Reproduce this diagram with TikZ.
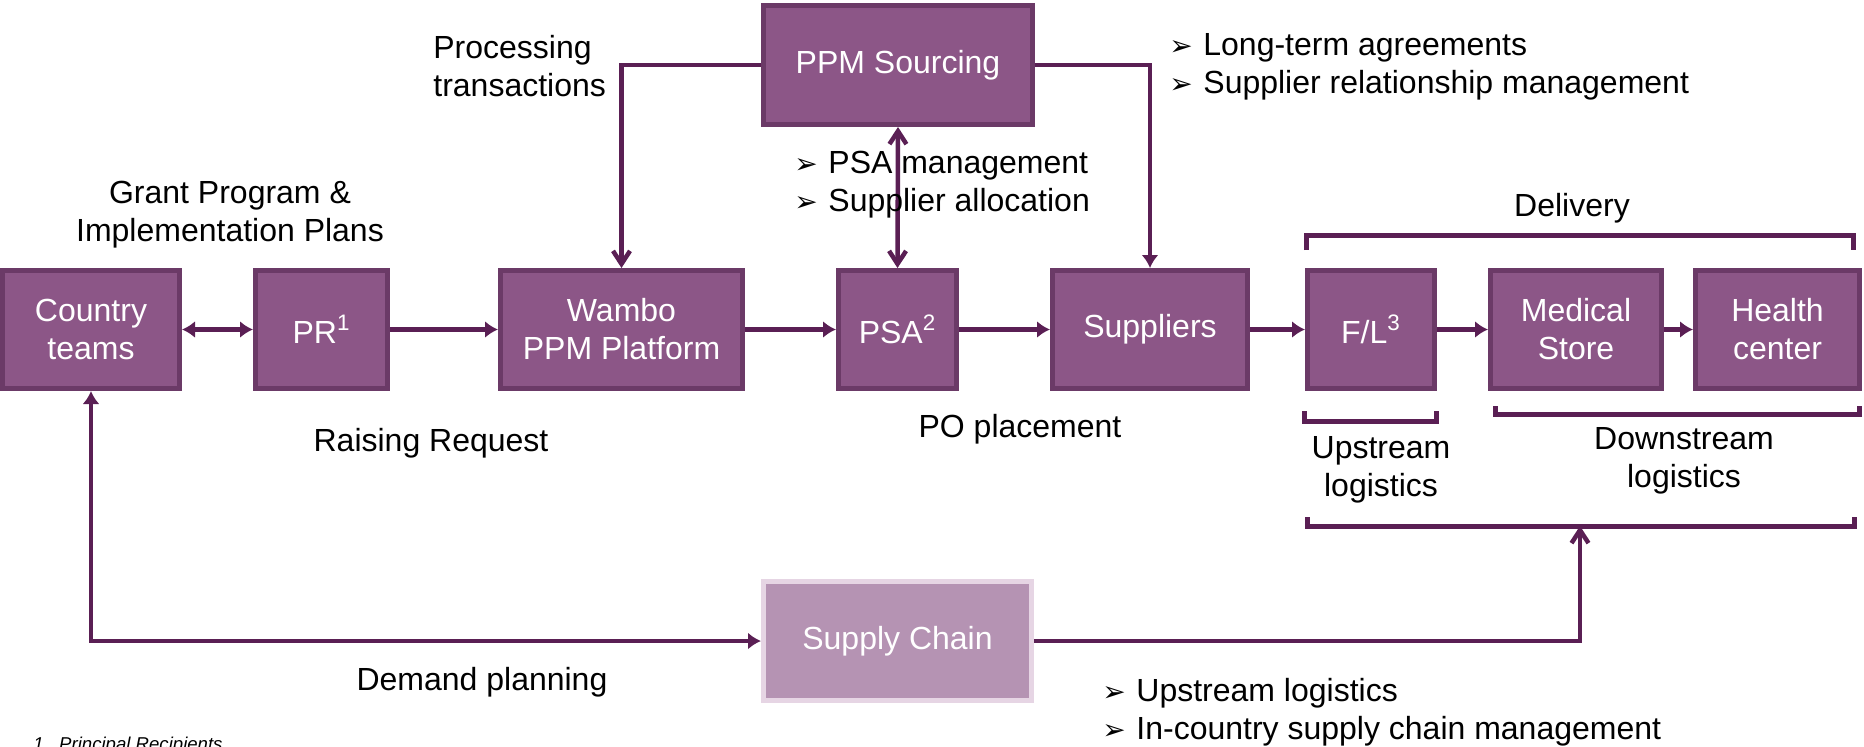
\documentclass[tikz,border=0pt]{standalone}
\usepackage{fontspec}
\setmainfont{Liberation Sans}
\newfontfamily\dejavu{DejaVu Sans}
\usetikzlibrary{arrows.meta}

\definecolor{boxfill}{RGB}{140,86,135}
\definecolor{boxdraw}{RGB}{107,58,103}
\definecolor{linkcol}{RGB}{90,31,84}
\definecolor{scfill}{RGB}{181,147,179}
\definecolor{scdraw}{RGB}{230,213,228}

\newcommand{\mainfont}{\fontsize{16pt}{19pt}\selectfont}
\newcommand{\bul}{\makebox[17pt][l]{\dejavu\fontsize{14pt}{14pt}\selectfont ➢}}

\tikzset{
  box/.style={draw=boxdraw, fill=boxfill, line width=2.5pt, text=white,
    inner sep=0pt, align=center, font=\mainfont, minimum height=59pt},
  scbox/.style={box, draw=scdraw, fill=scfill},
  lbl/.style={font=\mainfont, inner sep=0pt, text=black},
  link/.style={draw=linkcol, line width=2.25pt},
  tri/.style={link, -{Latex[length=6.5pt,width=8.5pt]}},
  tritri/.style={link, {Latex[length=6.5pt,width=8.5pt]}-{Latex[length=6.5pt,width=8.5pt]}},
  chev/.style={link, -{Straight Barb[length=6.5pt,width=8.5pt]}},
  chevchev/.style={link, {Straight Barb[length=6.5pt,width=8.5pt]}-{Straight Barb[length=6.5pt,width=8.5pt]}},
  brace/.style={draw=linkcol, line width=2.5pt},
}

\begin{document}
\begin{tikzpicture}[x=0.5pt, y=-0.5pt]
\useasboundingbox (0,0) rectangle (1864,746);

% main process row
\node[box, minimum width=88.5pt] (ct)  at (91,329.5)   {Country\\teams};
\node[box, minimum width=66pt]   (pr)  at (321.5,329.5) {PR\textsuperscript{1}};
\node[box, minimum width=121pt]  (wb)  at (621.5,329.5) {Wambo\\PPM Platform};
\node[box, minimum width=59pt]   (psa) at (897.5,329.5) {PSA\textsuperscript{2}};
\node[box, minimum width=97.5pt] (sup) at (1150,329.5)  {Suppliers};
\node[box, minimum width=63.5pt] (fl)  at (1371,329.5)  {F/L\textsuperscript{3}};
\node[box, minimum width=85.5pt] (ms)  at (1576,329.5)  {Medical\\Store};
\node[box, minimum width=82pt]   (hc)  at (1777.5,329.5) {Health\\center};

% sourcing and supply chain functions
\node[box, minimum width=134.5pt, minimum height=59.5pt] (ppm) at (898,65) {PPM Sourcing};
\node[scbox, minimum width=134pt, minimum height=59.5pt] (sc) at (897.5,641) {Supply Chain};

% flow along the row
\draw[tritri] (ct) -- (pr);
\draw[tri] (pr) -- (wb);
\draw[tri] (wb) -- (psa);
\draw[tri] (psa) -- (sup);
\draw[tri] (sup) -- (fl);
\draw[tri] (fl) -- (ms);
\draw[tri] (ms) -- (hc);

% sourcing links
\draw[chev] (ppm.west) -| (wb.north);
\draw[tri] (ppm.east) -| (sup.north);
\draw[chevchev] (ppm.south) -- (psa.north);

% logistics brackets
\coordinate (dl1) at (1306,250); \coordinate (dl2) at (1853,250);
\draw[brace] (dl1) -- (1306,235) -- (1853,235) -- (dl2);
\coordinate (ul1) at (1304,411); \coordinate (ul2) at (1436,411);
\draw[brace] (ul1) -- (1304,421) -- (1436,421) -- (ul2);
\coordinate (wl1) at (1495,406); \coordinate (wl2) at (1859,406);
\draw[brace] (wl1) -- (1495,414) -- (1859,414) -- (wl2);
\coordinate (bl1) at (1307,517); \coordinate (bl2) at (1854,517);
\draw[brace] (bl1) -- (1307,526) -- (1854,526) -- (bl2);
\coordinate (bmid) at (1580,526);

% supply chain links
\draw[tritri] (ct.south) |- (sc.west);
\draw[chev] (sc.east) -| (bmid);

% labels
\node[lbl, align=center] (lgp) at (230,215) {Grant Program \&\\Implementation Plans};
\node[lbl, align=left, anchor=west] (lproc) at (433,66) {Processing\\transactions};
\node[lbl, align=left, anchor=west] (lpsa) at (794,185) {\bul PSA management\\\bul Supplier allocation};
\node[lbl, align=left, anchor=west] (lsrc) at (1169,67) {\bul Long-term agreements\\\bul Supplier relationship management};
\node[lbl] (ldel) at (1572,208) {Delivery};
\node[lbl] (lrr) at (431,443) {Raising Request};
\node[lbl] (lpo) at (1020,429) {PO placement};
\node[lbl, align=center] (lup) at (1381,470) {Upstream\\logistics};
\node[lbl, align=center] (ldown) at (1684,461) {Downstream\\logistics};
\node[lbl] (ldp) at (482,682) {Demand planning};
\node[lbl, align=left, anchor=west] (lsc) at (1102,712) {\bul Upstream logistics\\\bul In-country supply chain management};
\node[anchor=base west, inner sep=0pt, font=\fontsize{9.3pt}{10pt}\selectfont\itshape] (fn) at (33,750) {1.\ \ Principal Recipients};
\end{tikzpicture}
\end{document}
